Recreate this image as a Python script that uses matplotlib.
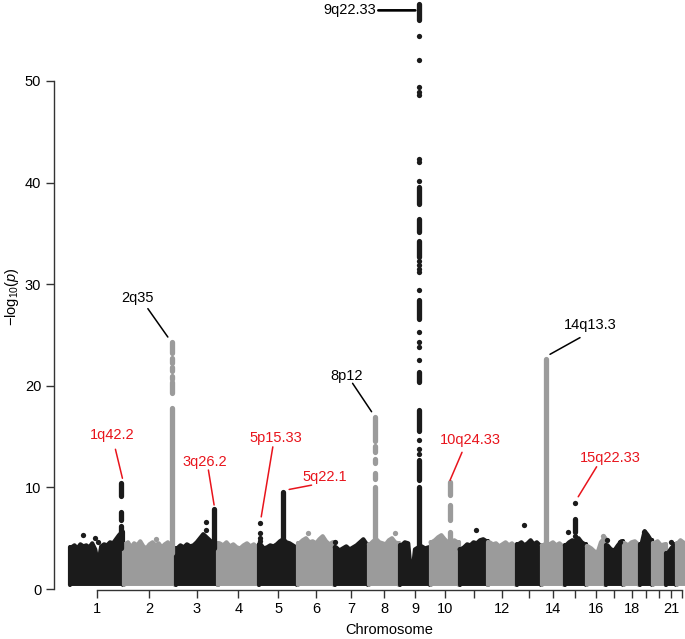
import matplotlib
matplotlib.use('Agg')
import matplotlib.pyplot as plt
from matplotlib.transforms import offset_copy
import numpy as np

# ---------------- data ----------------
chrom_names = [str(i) for i in range(1, 23)]
chrom_len = [249.3, 243.2, 198.0, 191.2, 180.9, 171.1, 159.1, 146.4, 141.2, 135.5,
             135.0, 133.9, 115.2, 107.3, 102.5, 90.4, 81.2, 78.1, 59.1, 63.0, 48.1, 51.3]
tick_labels = ['1', '2', '3', '4', '5', '6', '7', '8', '9', '10', '', '12', '', '14',
               '', '16', '', '18', '', '', '21', '']

# top of the dense background cloud, sampled evenly along each chromosome (-log10 p)
bg_top = [
    [4.1, 4.3, 4.0, 4.4, 4.2, 4.3, 4.1, 4.5, 3.9, 2.4, 4.2, 4.4, 4.3, 4.6, 4.5, 4.9, 5.3, 5.6],  # 1
    [4.4, 4.6, 4.1, 4.5, 4.3, 4.7, 4.2, 4.0, 4.4, 4.6, 4.3, 4.5, 4.1, 4.4, 4.6, 4.2, 4.0],       # 2
    [4.0, 4.3, 4.1, 4.4, 4.2, 4.3, 4.6, 5.0, 5.4, 5.1, 4.8, 4.5, 4.3],                           # 3
    [4.5, 4.3, 4.6, 4.2, 4.4, 4.1, 4.0, 4.3, 4.5, 4.2, 4.4, 4.1],                                # 4
    [4.4, 4.0, 4.1, 4.3, 4.2, 4.4, 4.7, 4.9, 4.6, 4.5, 4.3, 4.1],                                # 5
    [4.5, 4.8, 5.0, 4.6, 4.7, 4.5, 4.9, 5.2, 4.7, 4.4, 4.6],                                     # 6
    [4.1, 3.8, 4.0, 4.2, 3.9, 4.1, 4.3, 4.6, 4.9, 4.4],                                          # 7
    [4.4, 4.7, 4.9, 4.6, 4.5, 4.4, 4.8, 5.0, 4.6, 4.5],                                          # 8
    [4.3, 4.6, 4.5, 0.8, 3.9, 4.1, 4.2, 4.0, 4.1],                                               # 9
    [4.6, 4.8, 5.1, 5.3, 4.9, 4.6, 4.5, 4.8, 4.6],                                               # 10
    [3.9, 4.1, 4.4, 4.3, 4.6, 4.5, 4.8, 4.9, 4.7],                                               # 11
    [4.6, 4.4, 4.5, 4.2, 4.4, 4.6, 4.3, 4.5, 4.2],                                               # 12
    [4.4, 4.6, 4.3, 4.5, 4.8, 4.4, 4.6, 4.3],                                                    # 13
    [4.3, 4.5, 4.4, 4.6, 4.3, 4.5, 4.2],                                                         # 14
    [4.3, 4.6, 4.8, 4.7, 5.0, 4.6, 4.4],                                                         # 15
    [4.2, 4.0, 3.7, 3.6, 4.6, 5.0],                                                              # 16
    [4.3, 3.9, 3.8, 4.3, 4.7],                                                                   # 17
    [4.5, 4.3, 4.6, 4.7, 4.4],                                                                   # 18
    [4.4, 5.7, 5.3, 4.8],                                                                        # 19
    [4.5, 4.7, 4.3, 4.4],                                                                        # 20
    [3.5, 4.0, 4.4],                                                                             # 21
    [4.5, 4.8, 4.6, 4.4],                                                                        # 22
]

# peak columns: (chromosome, position Mb, continuous runs of points (low, high))
peak_runs = [
    (1, 240, [(9.2, 10.4), (6.8, 7.6), (4.0, 6.2)]),
    (2, 226, [(23.2, 24.3), (22.2, 22.7), (21.5, 21.9), (20.7, 21.0), (19.3, 20.4), (3.5, 17.8)]),
    (3, 180, [(4.0, 7.9)]),
    (5, 113, [(4.0, 9.5)]),
    (8, 30, [(14.6, 16.95), (13.5, 14.1), (12.4, 12.8), (10.8, 11.4), (4.0, 10.06)]),
    (9, 91, [(56.0, 57.6), (37.9, 39.6), (35.1, 36.4), (32.7, 34.3), (26.6, 28.4),
             (20.4, 21.4), (15.6, 17.6), (10.7, 12.7), (3.0, 10.06)]),
    (10, 93, [(9.3, 10.5), (6.8, 8.3), (4.0, 5.6)]),
    (14, 20, [(4.0, 22.68)]),
    (15, 49, [(5.6, 6.9)]),
]
# isolated points: (chromosome, position Mb, values)
single_points = [
    (9, 91, [54.4, 52.1, 49.4, 48.9, 48.6, 42.3, 42.0, 40.2, 32.3, 31.9, 31.5, 31.2,
             29.4, 25.3, 24.3, 23.8, 22.5, 14.65, 13.8, 13.3]),
    (15, 49, [8.43, 5.2]),
    (15, 18, [5.6]),
    (5, 6, [6.5, 5.5, 5.0, 4.7]),
    (3, 142, [6.6, 5.8]),
    (1, 62, [5.3]), (1, 117, [5.0]), (1, 132, [4.6]),
    (2, 152, [4.9]),
    (6, 48, [5.5]),
    (7, 3, [4.6]),
    (8, 124, [5.5]),
    (11, 79, [5.8]),
    (13, 34, [6.3]),
    (16, 79, [5.2]),
    (17, 6, [4.8]), (17, 68, [4.65]),
    (19, 20, [5.6]),
    (21, 23, [4.6]),
]

# (label, chromosome, position Mb, line end value, colour)
annotations = [
    ('9q22.33', 9, 91, 56.95, 'k'),
    ('2q35', 2, 226, 24.8, 'k'),
    ('1q42.2', 1, 240, 10.9, 'r'),
    ('3q26.2', 3, 180, 8.27, 'r'),
    ('5p15.33', 5, 6, 7.1, 'r'),
    ('5q22.1', 5, 113, 9.8, 'r'),
    ('8p12', 8, 30, 17.45, 'k'),
    ('10q24.33', 10, 93, 10.7, 'r'),
    ('14q13.3', 14, 20, 23.1, 'k'),
    ('15q22.33', 15, 49, 9.08, 'r'),
]
# layout of annotation lines/labels in pixels relative to the peak anchor:
# (line end offset, line start offset, label offset, label alignment)
ann_layout = {
    '9q22.33': ((-4, 0), (-41, 0), (-43, 0), 'right'),
    '2q35': ((-4, 0), (-24, 28.4), (-34, 38.7), 'center'),
    '1q42.2': ((1, 0), (-6, 29), (-9, 43), 'center'),
    '3q26.2': ((0, 0), (-5.7, 35), (-9, 43), 'center'),
    '5p15.33': ((1, 0), (12.6, 70), (16, 78.4), 'center'),
    '5q22.1': ((6, 0), (28.4, 4.3), (41.7, 12), 'center'),
    '8p12': ((-3.3, 0), (-22.3, 28.4), (-28.3, 35.7), 'center'),
    '10q24.33': ((0, 0), (12, 28), (20, 40), 'center'),
    '14q13.3': ((4.3, 0), (34.3, 16.7), (44.3, 29), 'center'),
    '15q22.33': ((3.3, 0), (21.7, 30), (35, 38.4), 'center'),
}

# ---------------- style ----------------
plt.rcParams['font.family'] = ['Liberation Sans', 'DejaVu Sans']
plt.rcParams['mathtext.fontset'] = 'custom'
plt.rcParams['mathtext.rm'] = 'Liberation Sans'
plt.rcParams['mathtext.it'] = 'Liberation Sans:italic'
BLACK = '#1b1b1b'
GRAY = '#9b9b9b'
RED = '#e8141c'
AXC = '#333333'
DOT_PT = 3.8          # dot diameter in points
FS = 10.5

starts = np.concatenate([[0], np.cumsum(chrom_len)[:-1]])
centers = starts + np.array(chrom_len) / 2.0

def gpos(ch, pos):
    return starts[ch - 1] + pos

def ccol(ch):
    return BLACK if ch % 2 == 1 else GRAY

fig = plt.figure(figsize=(6.85, 6.39), dpi=100)
W, H = 685.0, 639.0
ax = fig.add_axes([53.5 / W, (H - 600) / H, (685 - 53.5) / W, 600 / H])
ax.set_xlim(-77, 2870)
ax.set_ylim(-1.08, 57.97)

# background clouds
base = 0.35
for i, tops in enumerate(bg_top):
    s = starts[i]
    L = chrom_len[i]
    n = len(tops)
    xc = s + (np.arange(n) + 0.5) * L / n
    xs = np.concatenate([[s + 2], xc, [s + L - 2]])
    ys = np.concatenate([[tops[0]], tops, [tops[-1]]])
    col = ccol(i + 1)
    ax.fill_between(xs, base, ys, color=col, lw=0, zorder=2)
    ax.plot(xs, ys, color=col, lw=3.0, solid_joinstyle='round',
            solid_capstyle='round', zorder=2)
    ax.plot([xs[0], xs[0]], [base, ys[0]], color=col, lw=3.0,
            solid_capstyle='round', zorder=2)
    ax.plot([xs[-1], xs[-1]], [base, ys[-1]], color=col, lw=3.0,
            solid_capstyle='round', zorder=2)

# peak runs
for ch, pos, runs in peak_runs:
    x = gpos(ch, pos)
    for lo, hi in runs:
        ax.plot([x, x], [lo, hi], color=ccol(ch), lw=DOT_PT,
                solid_capstyle='round', zorder=3)

# single points
for ch, pos, vals in single_points:
    x = gpos(ch, pos)
    ax.plot([x] * len(vals), vals, 'o', color=ccol(ch), ms=DOT_PT, mew=0, zorder=3)

# annotations
for lab, ch, pos, yend, c in annotations:
    col = RED if c == 'r' else 'black'
    x = gpos(ch, pos)
    end_off, start_off, text_off, ha = ann_layout[lab]
    lw = 1.9 if lab == '9q22.33' else 1.1
    tr = offset_copy(ax.transData, fig=fig, x=end_off[0], y=end_off[1], units='dots')
    ax.annotate('', xy=(x, yend), xycoords=tr,
                xytext=(start_off[0] - end_off[0], start_off[1] - end_off[1]),
                textcoords='offset pixels',
                arrowprops=dict(arrowstyle='-', color=col, lw=lw, shrinkA=0, shrinkB=0))
    ax.annotate(lab, xy=(x, yend), xycoords='data', xytext=text_off,
                textcoords='offset pixels', ha=ha, va='center', color=col, fontsize=FS)

# axes
for sp in ['top', 'right']:
    ax.spines[sp].set_visible(False)
ax.spines['left'].set_bounds(0, 50)
ax.spines['left'].set_color(AXC)
ax.spines['left'].set_linewidth(1.0)
ax.spines['bottom'].set_position(('data', -0.05))
ax.spines['bottom'].set_bounds(centers[0], centers[-1])
ax.spines['bottom'].set_color(AXC)
ax.spines['bottom'].set_linewidth(1.0)
ax.set_yticks([0, 10, 20, 30, 40, 50])
ax.set_xticks(centers)
ax.set_xticklabels(tick_labels)
ax.tick_params(axis='both', direction='out', length=5.8, width=1.0, color=AXC,
               labelsize=FS, labelcolor='black')
ax.tick_params(axis='x', pad=3)
ax.tick_params(axis='y', pad=3)

fig.text(12 / W, 1 - 297 / H, r'$-\mathrm{log}_{10}(\mathit{p})$', rotation=90,
         ha='center', va='center', fontsize=FS)
fig.text(389.5 / W, 1 - 630 / H, 'Chromosome', ha='center', va='center', fontsize=FS)

fig.savefig('out.png', dpi=100)
